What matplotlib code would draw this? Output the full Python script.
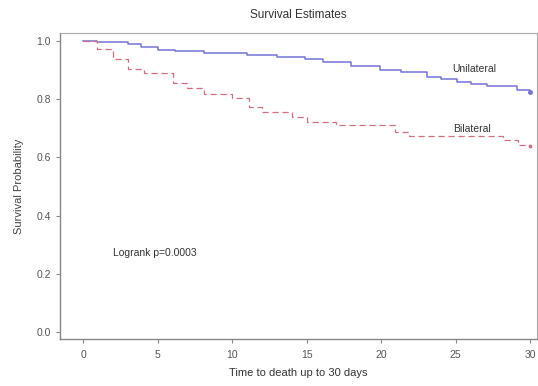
import matplotlib.pyplot as plt

plt.rcParams['font.family'] = ['Liberation Sans', 'DejaVu Sans']

# Kaplan-Meier estimates
uni_time = [0, 0.9, 3.0, 3.9, 5.05, 6.2, 8.1, 11.0, 13.0, 14.9, 16.1, 18.0,
            19.9, 21.3, 23.1, 24.0, 25.1, 26.0, 27.1, 29.1, 30]
uni_surv = [1.0, 0.997, 0.99, 0.979, 0.971, 0.965, 0.958, 0.951, 0.946, 0.94,
            0.929, 0.915, 0.9, 0.894, 0.877, 0.871, 0.86, 0.853, 0.846, 0.831, 0.825]

bi_time = [0, 0.95, 2.0, 3.0, 4.1, 6.0, 7.0, 8.1, 10.0, 11.1, 12.0, 14.0,
           15.0, 17.0, 20.9, 21.9, 28.2, 29.2, 30]
bi_surv = [1.0, 0.972, 0.938, 0.903, 0.889, 0.855, 0.840, 0.818, 0.805, 0.772,
           0.755, 0.739, 0.723, 0.711, 0.688, 0.674, 0.66, 0.643, 0.64]

x_ticks = [0, 5, 10, 15, 20, 25, 30]
y_ticks = [0.0, 0.2, 0.4, 0.6, 0.8, 1.0]

fig = plt.figure(figsize=(5.38, 3.86), dpi=100)
ax = fig.add_axes([0.1115, 0.1218, 0.8865, 0.7927])

ax.step(uni_time, uni_surv, where='post', color='#7373d6', lw=1.1)
ax.step(bi_time, bi_surv, where='post', color='#d0707e', lw=0.9,
        linestyle=(0, (5, 3)))
ax.plot(uni_time[-1], uni_surv[-1], 'o', color='#7373d6', ms=2.5)
ax.plot(bi_time[-1], bi_surv[-1], 'o', color='#d0707e', ms=1.8)

ax.set_xlim(-1.55, 30.45)
ax.set_ylim(-0.024, 1.028)
ax.set_xticks(x_ticks)
ax.set_xticklabels([str(t) for t in x_ticks])
ax.set_yticks(y_ticks)
ax.set_yticklabels([f'{v:.1f}' for v in y_ticks])
ax.tick_params(direction='out', length=3, width=0.8, colors='#888888',
               labelsize=7.5, labelcolor='#555555')
ax.tick_params(axis='x', pad=5)

for side in ['left', 'bottom']:
    ax.spines[side].set_color('#888888')
    ax.spines[side].set_linewidth(1.0)
for side in ['top', 'right']:
    ax.spines[side].set_color('#aaaaaa')
    ax.spines[side].set_linewidth(0.8)

ax.text(24.8, 0.904, 'Unilateral', fontsize=7.5, color='#333333', va='center')
ax.text(24.8, 0.698, 'Bilateral', fontsize=7.5, color='#333333', va='center')
ax.text(2.0, 0.27, 'Logrank p=0.0003', fontsize=7.5, color='#333333', va='center')

ax.set_ylabel('Survival Probability', fontsize=8, color='#444444', labelpad=9)
ax.set_xlabel('Time to death up to 30 days', fontsize=8, color='#333333', labelpad=6)
fig.text(0.555, 0.961, 'Survival Estimates', ha='center', va='center',
         fontsize=8.5, color='#333333')

fig.savefig('out.png', dpi=100)
